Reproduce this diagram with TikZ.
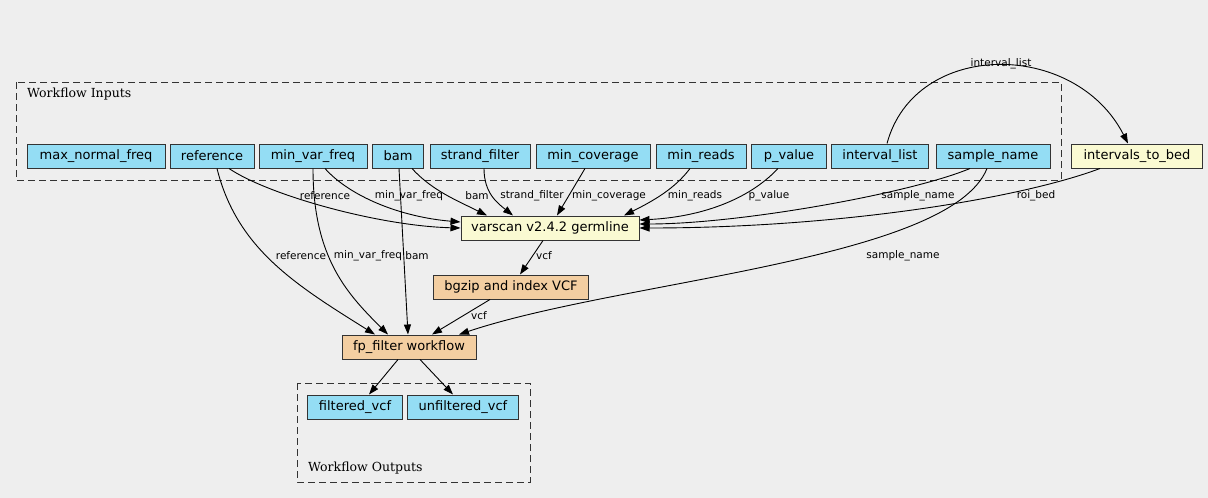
\documentclass[tikz,border=0pt]{standalone}
\usepackage{fontspec}
\setmainfont{DejaVu Serif}
\setsansfont{DejaVu Sans}
\usetikzlibrary{arrows.meta, positioning, calc}

\definecolor{bgcol}{HTML}{EEEEEE}
\definecolor{inblue}{HTML}{94DDF4}
\definecolor{toolyel}{HTML}{FAFAD2}
\definecolor{subtan}{HTML}{F3CEA1}

\begin{document}
\begin{tikzpicture}[x=1pt, y=-1pt,
    box/.style={draw=black!80, line width=1pt, minimum height=24pt, inner sep=2pt, font=\sffamily\fontsize{13}{15}\selectfont},
    inp/.style={box, fill=inblue},
    tool/.style={box, fill=toolyel},
    sub/.style={box, fill=subtan},
    lbl/.style={font=\sffamily\fontsize{10.5}{12}\selectfont, inner sep=0pt},
    grp/.style={draw=black!80, line width=1pt, dash pattern=on 7pt off 4pt},
    grplbl/.style={anchor=west, inner sep=0pt, font=\fontsize{12.5}{14}\selectfont},
    edge/.style={line width=0.9pt, -{Triangle[length=10pt,width=7pt]}}]

\fill[bgcol] (0,0) rectangle (1208,498);
\useasboundingbox (0,0) rectangle (1208,498);

% Groups
\draw[grp] (16,82) rectangle (1061,180);
\node[grplbl] (inlabel) at (27,94) {Workflow Inputs};
\draw[grp] (297,383) rectangle (530,482);
\node[grplbl] (outlabel) at (308,468) {Workflow Outputs};

% Workflow inputs
\node[inp, minimum width=138pt] (maxnf) at (96,156) {max\_normal\_freq};
\node[inp, minimum width=84pt] (ref) at (212,156) {reference};
\node[inp, minimum width=108pt] (mvf) at (313,156) {min\_var\_freq};
\node[inp, minimum width=51pt] (bam) at (398,156) {bam};
\node[inp, minimum width=100pt] (sf) at (480,156) {strand\_filter};
\node[inp, minimum width=114pt] (mcov) at (593,156) {min\_coverage};
\node[inp, minimum width=90pt] (mreads) at (701,156) {min\_reads};
\node[inp, minimum width=75pt] (pval) at (789,156) {p\_value};
\node[inp, minimum width=97pt] (ilist) at (880,156) {interval\_list};
\node[inp, minimum width=114pt] (sname) at (993,156) {sample\_name};

% Steps
\node[tool, minimum width=131pt] (itb) at (1137,156) {intervals\_to\_bed};
\node[tool, minimum width=178pt] (varscan) at (550,228) {varscan v2.4.2 germline};
\node[sub, minimum width=155pt] (bgzip) at (511,287) {bgzip and index VCF};
\node[sub, minimum width=134pt] (fpf) at (409,347) {fp\_filter workflow};

% Workflow outputs
\node[inp, minimum width=95pt] (fvcf) at (355,407) {filtered\_vcf};
\node[inp, minimum width=111pt] (ufvcf) at (463,407) {unfiltered\_vcf};

% Edges into varscan
\draw[edge] ([xshift=17pt]ref.south) .. controls +(40,27) and +(-81,-2) .. (varscan.west);
\draw[edge] ([xshift=12pt]mvf.south) .. controls +(25,28) and +(-60,-5) .. ([yshift=6pt]varscan.west);
\draw[edge] ([xshift=14pt]bam.south) .. controls +(20,22) and +(-30,-15) .. ([xshift=-63pt]varscan.north);
\draw[edge] ([xshift=4pt]sf.south) .. controls +(0,25) and +(-15,-12) .. ([xshift=-37pt]varscan.north);
\draw[edge] ([xshift=-8pt]mcov.south) -- ([xshift=7pt]varscan.north);
\draw[edge] ([xshift=-11pt]mreads.south) .. controls +(-15,20) and +(30,-15) .. ([xshift=74pt]varscan.north);
\draw[edge] ([xshift=-11pt]pval.south) .. controls +(-30,32) and +(60,-3) .. ([yshift=8pt]varscan.east);
\draw[edge] ([xshift=-23pt]sname.south) .. controls +(-60,25) and +(100,0) .. ([yshift=4pt]varscan.east);
\draw[edge] ([xshift=-37pt]itb.south) .. controls +(-80,30) and +(200,0) .. (varscan.east);
\draw[edge] ([xshift=7pt]ilist.north) .. controls +(28,-104) and +(-53,-104) .. ([xshift=-9pt]itb.north);

% Edges into fp_filter
\draw[edge] ([xshift=-7pt]varscan.south) -- ([xshift=9pt]bgzip.north);
\draw[edge] ([xshift=-21pt]bgzip.south) -- ([xshift=23pt]fpf.north);
\draw[edge] ([xshift=5pt]ref.south) .. controls +(20,80) and +(-80,-50) .. ([xshift=-34pt]fpf.north);
\draw[edge] (mvf.south) .. controls +(0,90) and +(-40,-40) .. ([xshift=-21pt]fpf.north);
\draw[edge] ([xshift=1pt]bam.south) -- ([xshift=-1pt]fpf.north);
\draw[edge] ([xshift=-6pt]sname.south) .. controls +(-37,92) and +(161,-54) .. ([xshift=50pt]fpf.north);

% Outputs
\draw[edge] ([xshift=-11pt]fpf.south) -- ([xshift=14pt]fvcf.north);
\draw[edge] ([xshift=11pt]fpf.south) -- ([xshift=-10pt]ufvcf.north);

% Edge labels
\node[lbl] (l-ref1) at (325,196) {reference};
\node[lbl] (l-mvf1) at (409,196) {min\_var\_freq};
\node[lbl] (l-bam1) at (477,196) {bam};
\node[lbl] (l-sf) at (532,196) {strand\_filter};
\node[lbl] (l-mcov) at (609,196) {min\_coverage};
\node[lbl] (l-mreads) at (695,196) {min\_reads};
\node[lbl] (l-pval) at (769,196) {p\_value};
\node[lbl] (l-sname1) at (918,196) {sample\_name};
\node[lbl] (l-roi) at (1036,196) {roi\_bed};
\node[lbl] (l-ilist) at (1001,64) {interval\_list};
\node[lbl] (l-vcf1) at (544,256) {vcf};
\node[lbl] (l-vcf2) at (479,316) {vcf};
\node[lbl] (l-ref2) at (301,256) {reference};
\node[lbl] (l-mvf2) at (368,256) {min\_var\_freq};
\node[lbl] (l-bam2) at (417,256) {bam};
\node[lbl] (l-sname2) at (903,256) {sample\_name};

\end{tikzpicture}
\end{document}
